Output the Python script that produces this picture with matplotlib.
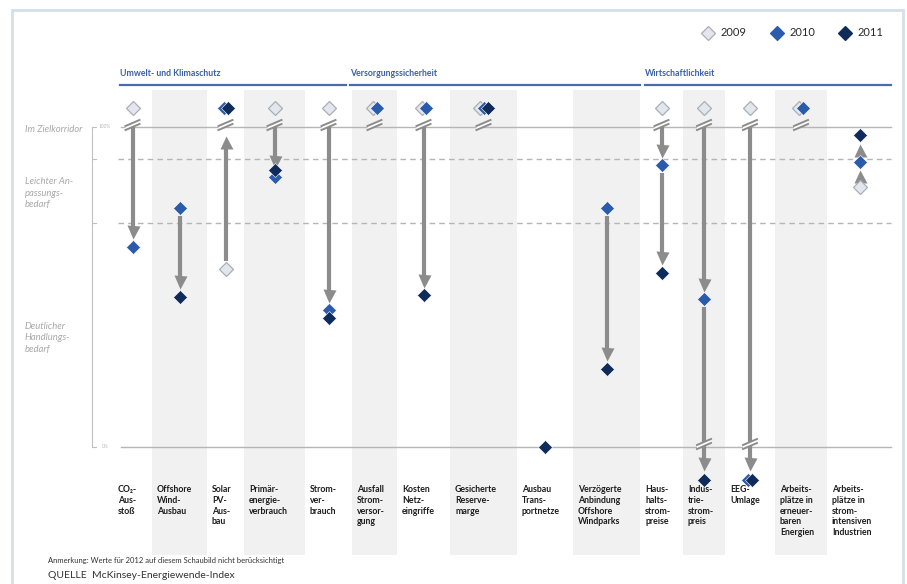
import numpy as np
import matplotlib.pyplot as plt
from matplotlib.patches import Polygon, Rectangle

plt.rcParams['font.family'] = ['Lato', 'DejaVu Sans']

# values in % of target; points outside the scale are drawn above 100% / below 0%
TOP = 106.0
BOTTOM = -10.3
nan = np.nan

categories = ['CO₂-\nAus-\nstoß', 'Offshore\nWind-\nAusbau', 'Solar\nPV-\nAus-\nbau',
              'Primär-\nenergie-\nverbrauch', 'Strom-\nver-\nbrauch', 'Ausfall\nStrom-\nversor-\ngung',
              'Kosten\nNetz-\neingriffe', 'Gesicherte\nReserve-\nmarge', 'Ausbau\nTrans-\nportnetze',
              'Verzögerte\nAnbindung\nOffshore\nWindparks', 'Haus-\nhalts-\nstrom-\npreise',
              'Indus-\ntrie-\nstrom-\npreis', 'EEG-\nUmlage',
              'Arbeits-\nplätze in\nerneuer-\nbaren\nEnergien',
              'Arbeits-\nplätze in\nstrom-\nintensiven\nIndustrien']
years = ['2009', '2010', '2011']
v2009 = [TOP, nan, 55.6, TOP, TOP, TOP, TOP, TOP, nan, nan, TOP, TOP, TOP, TOP, 81.3]
v2010 = [62.6, 74.7, TOP, 84.4, 42.8, TOP, TOP, TOP, nan, 74.7, 88.1, 46.2, BOTTOM, TOP, 89.1]
v2011 = [nan, 46.9, TOP, 86.6, 40.3, nan, 47.5, TOP, 0.0, 24.4, 54.4, BOTTOM, BOTTOM, nan, 97.5]
groups = ['Umwelt- und Klimaschutz', 'Versorgungssicherheit', 'Wirtschaftlichkeit']
zones = ['Im Zielkorridor', 'Leichter An-\npassungs-\nbedarf', 'Deutlicher\nHandlungs-\nbedarf']
levels = [100, 90, 70, 0]

# layout (pixels)
W, H = 907, 584
Y100, Y0 = 127, 447
col_edges = [113, 152, 207, 244, 305, 352, 397, 450, 517, 573, 640, 683, 725, 775, 827, 893]
group_spans = [(120, 346), (350, 640), (645, 891)]
zone_y = [130, 193, 338]

colors = ['#e3e7ed', '#2b5cab', '#0f2b5a']
edges = ['#a9afb8', '#ffffff', '#ffffff']
grey = '#8c8c8c'


def pct(ypx):
    return (Y0 - ypx) / (Y0 - Y100) * 100


def dpx(n):
    return n / (Y0 - Y100) * 100


fig = plt.figure(figsize=(W / 100, H / 100), dpi=100)
ax = fig.add_axes([0, 0, 1, 1])
ax.set_xlim(0, W)
ax.set_ylim(pct(H), pct(0))
ax.axis('off')

# frame
ax.add_patch(Rectangle((12, pct(600)), 891, pct(10) - pct(600), fill=False,
                       ec='#d4dfe9', lw=2, clip_on=False))

xc = [(l + r) / 2 for l, r in zip(col_edges[:-1], col_edges[1:])]

# shaded columns
for j in range(1, len(categories), 2):
    ax.fill_between([col_edges[j], col_edges[j + 1]], pct(555), pct(90),
                    color='#f1f1f1', lw=0, zorder=0)

# reference lines
for lv in levels:
    if lv in (100, 0):
        ax.plot([121, 891], [lv, lv], color='#b5b5b5', lw=1, zorder=1)
    else:
        ax.plot([118, 891], [lv, lv], color='#b5b5b5', lw=1, ls=(0, (4, 3)), zorder=1)
    ax.plot([92, 96], [lv, lv], color='#c0c0c0', lw=0.8)
ax.plot([92, 92], [0, 100], color='#c0c0c0', lw=0.8)
ax.text(99, 100, '100%', fontsize=3.5, color='#b8b8b8', va='center')
ax.text(102, 0, '0%', fontsize=3.5, color='#b8b8b8', va='center')

for txt, yy in zip(zones, zone_y):
    ax.text(25, pct(yy), txt, fontsize=6.8, style='italic', color='#a8a8a8',
            va='center', linespacing=1.3)


def brk(cx, cy):
    a = [(cx - 7, pct(cy + 1)), (cx + 7, pct(cy - 5))]
    b = [(cx + 7, pct(cy - 1)), (cx - 7, pct(cy + 5))]
    ax.add_patch(Polygon(a + b, closed=True, fc='white', ec='none', zorder=3))
    ax.plot(*zip(*a), color=grey, lw=1.4, zorder=3.1)
    ax.plot(*zip(*b), color=grey, lw=1.4, zorder=3.1)


def arrow(x, y_from, y_to):
    d = np.sign(y_to - y_from)
    if y_from > 100:
        start = 100
    else:
        start = y_from + d * dpx(8)
    if y_to > 100:
        tip = 100 - dpx(8)
    elif y_to < 0:
        tip = y_to + dpx(9)
    else:
        tip = y_to - d * dpx(8)
    hl = dpx(13)
    ax.plot([x, x], [start, tip - d * hl * 0.6], color=grey, lw=3,
            solid_capstyle='butt', zorder=2)
    ax.plot(x, tip - d * hl / 2, marker='v' if d < 0 else '^', ms=13 * 0.72,
            color=grey, mec='none', zorder=2)


vals = np.array([v2009, v2010, v2011], dtype=float)
for j in range(len(categories)):
    col = vals[:, j]
    present = [v for v in col if not np.isnan(v)]
    for a, b in zip(present[:-1], present[1:]):
        if abs(a - b) > 3:
            arrow(xc[j], a, b)
    if np.nanmax(col) > 100:
        brk(xc[j], 125)
    if np.nanmin(col) < 0:
        brk(xc[j], 444)
    # spread overlapping off-scale markers
    offs = np.zeros(3)
    for mask in (col > 100, col < 0):
        idx = np.where(mask)[0]
        for k, i in enumerate(idx):
            offs[i] = (k - (len(idx) - 1) / 2) * 4
    for i in range(3):
        if np.isnan(col[i]):
            continue
        ax.plot(xc[j] + offs[i], col[i], marker='D', ms=6.8, mfc=colors[i],
                mec=edges[i], mew=0.9 if i == 0 else 0.4, zorder=4 + i)

# category labels
for j, lab in enumerate(categories):
    ax.text(col_edges[j] + 5, pct(485), lab, fontsize=6.3, fontweight='bold',
            color='#1c1c1c', va='top', ha='left', linespacing=1.25)

# group headers
for g, (x0, x1) in zip(groups, group_spans):
    ax.text(x0, pct(73), g, fontsize=6.3, fontweight='bold', color='#3d5fa6', va='center')
    ax.plot([x0, x1], [pct(85), pct(85)], color='#4a6bb0', lw=1.6, clip_on=False)

# legend
for i, (yr, lx) in enumerate(zip(years, [708, 777, 845])):
    ax.plot(lx, pct(33), marker='D', ms=7, mfc=colors[i], mec=edges[i] if i == 0 else colors[i],
            mew=0.9, clip_on=False)
    ax.text(lx + 13, pct(33), yr, fontsize=8, color='#2a2a2a', va='center')

ax.text(48, pct(561), 'Anmerkung: Werte für 2012 auf diesem Schaubild nicht berücksichtigt',
        fontsize=5.5, color='#333333', va='center')
ax.text(48, pct(576), 'QUELLE  McKinsey-Energiewende-Index', fontsize=7.5,
        color='#333333', va='center')

fig.savefig('out.png', dpi=100)
